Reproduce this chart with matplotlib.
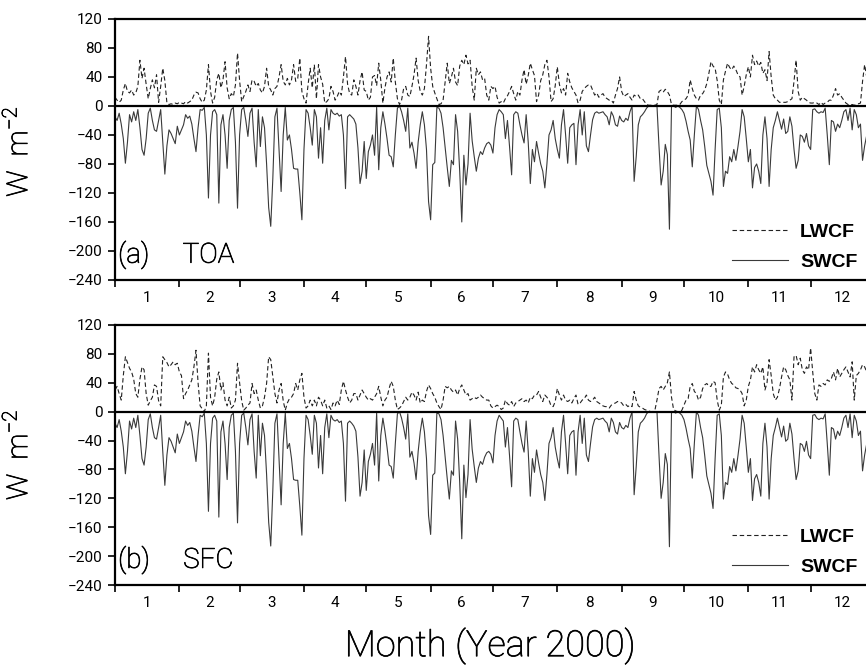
import numpy as np
import matplotlib
matplotlib.use("Agg")
import matplotlib.pyplot as plt
import matplotlib.patheffects as pe

plt.rcParams['font.family'] = ['Roboto', 'DejaVu Sans']
plt.rcParams['mathtext.fontset'] = 'custom'
plt.rcParams['mathtext.rm'] = 'Roboto:light'
plt.rcParams['mathtext.it'] = 'Roboto:light'

# daily cloud radiative forcing for 2000 (W m-2), one row per month
toa_lw = (
    [12, 8, 5, 8, 22, 31, 20, 18, 22, 15, 18, 27, 63, 38, 52, 30, 10, 24, 36, 25, 43, 5, 27, 52, 35, 4, 2, 3, 2, 4, 3]
    + [5, 4, 3, 6, 4, 6, 8, 15, 19, 18, 10, 5, 8, 22, 57, 20, 4, 12, 36, 45, 25, 36, 61, 25, 10, 17, 13, 29, 73]
    + [35, 6, 13, 20, 29, 20, 36, 34, 27, 31, 22, 18, 27, 52, 27, 22, 15, 24, 27, 40, 57, 34, 29, 38, 29, 36, 57, 34, 38, 66, 20]
    + [10, 4, 30, 52, 25, 57, 10, 57, 40, 30, 4, 6, 10, 27, 20, 8, 13, 20, 15, 40, 68, 30, 17, 15, 36, 27, 15, 35, 47, 22]
    + [20, 8, 12, 40, 42, 28, 59, 35, 4, 25, 40, 47, 33, 66, 33, 10, 2, 8, 24, 27, 15, 13, 27, 43, 66, 35, 20, 15, 24, 57, 96]
    + [52, 27, 18, 10, 2, 3, 8, 33, 59, 31, 40, 52, 33, 28, 55, 63, 57, 70, 58, 63, 27, 8, 52, 43, 47, 36, 38, 15, 8, 27]
    + [24, 27, 12, 4, 6, 4, 10, 14, 20, 27, 17, 8, 20, 15, 36, 50, 30, 42, 59, 50, 42, 6, 15, 35, 43, 57, 63, 40, 6, 10, 28]
    + [54, 30, 18, 24, 15, 45, 33, 25, 20, 15, 4, 8, 20, 24, 27, 29, 29, 22, 15, 18, 12, 15, 17, 12, 10, 8, 8, 4, 15, 24, 40]
    + [20, 13, 15, 17, 12, 8, 15, 13, 15, 10, 10, 6, 2, 1, 1, 1, 1, 2, 20, 22, 19, 23, 20, 15, 2, 1, 1, 1, 2, 6]
    + [8, 10, 15, 36, 24, 15, 10, 8, 15, 17, 22, 31, 45, 61, 55, 52, 35, 8, 2, 36, 48, 59, 53, 50, 55, 50, 43, 40, 15, 27, 43]
    + [54, 40, 70, 57, 62, 55, 60, 45, 50, 35, 75, 40, 15, 10, 8, 5, 5, 5, 5, 6, 8, 10, 34, 63, 20, 8, 12, 10, 8, 5]
    + [4, 4, 5, 4, 2, 5, 2, 4, 5, 8, 8, 15, 24, 15, 17, 12, 8, 4, 2, 1, 2, 1, 2, 3, 4, 34, 57, 40, 30, 25, 20]
)
toa_sw = (
    [-15, -20, -10, -25, -45, -79, -50, -12, -22, -8, -20, -5, -30, -60, -68, -45, -10, -3, -20, -33, -35, -20, -5, -50, -94, -55, -33, -38, -45, -52, -28]
    + [-40, -33, -26, -12, -17, -14, -25, -45, -63, -30, -5, -6, -2, -40, -127, -40, -8, -5, -12, -134, -26, -12, -40, -86, -20, -5, -2, -50, -141]
    + [-40, -5, -2, -20, -42, -10, -3, -50, -84, -5, -56, -15, -30, -80, -140, -166, -100, -15, -3, -60, -118, -40, -2, -47, -40, -60, -86, -87, -87, -120, -157]
    + [-60, -5, -10, -30, -54, -5, -15, -72, -30, -79, -20, -3, -33, -5, -10, -12, -10, -14, -12, -40, -114, -15, -12, -15, -18, -25, -58, -107, -90, -49]
    + [-100, -63, -54, -40, -68, -2, -88, -30, -8, -25, -45, -68, -70, -84, -40, -3, 0, -8, -20, -35, -3, -58, -50, -65, -86, -50, -26, -8, -26, -60, -132]
    + [-157, -81, -78, -2, -3, -10, -30, -58, -85, -111, -75, -81, -12, -35, -90, -160, -68, -109, -80, -10, -48, -70, -90, -72, -63, -67, -58, -52, -50, -54]
    + [-65, -30, -12, -5, -8, -12, -45, -20, -56, -95, -12, -8, -10, -26, -40, -51, -12, -50, -107, -60, -77, -49, -65, -80, -90, -113, -80, -40, -33, -20, -45]
    + [-60, -72, -26, -5, -40, -79, -30, -26, -24, -81, -26, -5, -40, -8, -55, -63, -40, -19, -10, -8, -10, -9, -8, -12, -15, -26, -8, -14, -26, -28, -14]
    + [-20, -22, -17, -20, -8, 0, -104, -70, -26, -15, -12, -8, -3, 0, 0, 0, 0, 0, -57, -109, -90, -53, -67, -170, 0, 0, -2, 0, -2, -5]
    + [-10, -21, -35, -47, -84, -40, 0, -5, -20, -33, -56, -82, -93, -104, -123, -60, -5, -3, -30, -111, -90, -93, -70, -77, -60, -75, -56, -35, -5, -15, -45]
    + [-77, -60, -113, -85, -80, -90, -107, -40, -15, -45, -111, -60, -30, -20, -8, -20, -32, -18, -38, -35, -15, -28, -60, -86, -75, -40, -42, -50, -38, -55]
    + [-60, -5, -4, -8, -10, -8, -9, -3, -40, -81, -20, -22, -35, -25, -30, -20, -8, -5, -20, -3, -33, -5, -12, -30, -25, -75, -55, -40, -30, -50, -60]
)
sfc_lw = (
    [30, 35, 25, 16, 50, 76, 68, 60, 55, 45, 25, 20, 45, 62, 58, 25, 9, 15, 20, 37, 35, 15, 8, 76, 72, 68, 62, 65, 69, 65, 67]
    + [55, 50, 18, 25, 30, 37, 44, 62, 85, 40, 8, 4, 0, 8, 81, 20, 8, 20, 45, 55, 30, 40, 16, 8, 20, 5, 8, 16, 67]
    + [40, 15, 2, 5, 9, 12, 39, 25, 30, 16, 5, 8, 20, 39, 76, 72, 48, 25, 12, 30, 39, 15, 2, 12, 18, 20, 25, 39, 30, 44, 53]
    + [20, 5, 8, 16, 8, 16, 8, 20, 16, 8, 16, 5, 8, 3, 12, 8, 16, 10, 30, 42, 30, 20, 12, 16, 25, 25, 16, 23, 30, 25]
    + [20, 16, 18, 16, 20, 25, 35, 20, 8, 16, 20, 32, 42, 35, 16, 3, 5, 8, 14, 20, 16, 20, 27, 23, 16, 27, 12, 16, 14, 28, 37]
    + [32, 25, 20, 12, 7, 3, 16, 35, 33, 35, 30, 27, 30, 23, 32, 37, 30, 23, 25, 16, 18, 20, 18, 20, 23, 20, 18, 16, 16, 8]
    + [5, 7, 9, 7, 3, 5, 16, 11, 9, 14, 7, 12, 14, 16, 18, 14, 16, 12, 20, 18, 23, 23, 28, 20, 14, 23, 20, 16, 8, 7, 14]
    + [32, 23, 16, 23, 16, 14, 16, 12, 18, 23, 10, 12, 16, 18, 23, 16, 14, 16, 20, 14, 12, 10, 8, 7, 7, 5, 9, 11, 12, 14, 14]
    + [12, 8, 10, 7, 9, 7, 28, 16, 8, 6, 5, 3, 2, 1, 0, 0, 2, 16, 32, 35, 30, 35, 40, 55, 20, 3, 1, 0, 0, 2]
    + [9, 16, 18, 35, 39, 28, 25, 16, 20, 32, 37, 39, 35, 35, 42, 40, 16, 2, 9, 48, 55, 52, 44, 39, 37, 33, 32, 30, 25, 8, 16]
    + [35, 44, 62, 55, 65, 58, 53, 62, 30, 40, 72, 50, 25, 16, 20, 32, 48, 62, 58, 50, 44, 16, 76, 78, 65, 74, 58, 53, 62, 58]
    + [88, 55, 25, 16, 37, 35, 39, 37, 44, 42, 46, 55, 44, 60, 48, 53, 58, 62, 55, 48, 69, 16, 50, 53, 58, 65, 62, 55, 50, 45, 40]
)
sfc_sw = (
    [-16, -22, -11, -27, -49, -86, -55, -13, -24, -9, -22, -5, -33, -65, -74, -49, -11, -3, -22, -36, -38, -22, -5, -55, -102, -60, -36, -41, -49, -57, -31]
    + [-44, -36, -28, -13, -19, -15, -27, -49, -69, -33, -5, -7, -2, -44, -138, -44, -9, -5, -13, -146, -28, -13, -44, -94, -22, -5, -2, -55, -154]
    + [-44, -5, -2, -22, -46, -11, -3, -55, -92, -5, -61, -16, -33, -87, -153, -186, -109, -16, -3, -65, -129, -44, -2, -51, -44, -65, -94, -95, -95, -131, -171]
    + [-65, -5, -11, -33, -59, -5, -16, -78, -33, -86, -22, -3, -36, -5, -11, -13, -11, -15, -13, -44, -124, -16, -13, -16, -20, -27, -63, -117, -98, -53]
    + [-109, -69, -59, -44, -74, -2, -96, -33, -9, -27, -49, -74, -76, -92, -44, -3, 0, -9, -22, -38, -3, -63, -55, -71, -94, -55, -28, -9, -28, -65, -144]
    + [-170, -88, -85, -2, -3, -11, -33, -63, -93, -121, -82, -88, -13, -38, -98, -176, -74, -119, -87, -11, -52, -76, -98, -78, -69, -73, -63, -57, -55, -59]
    + [-71, -33, -13, -5, -9, -13, -49, -22, -61, -104, -13, -9, -11, -28, -44, -56, -13, -55, -117, -65, -84, -53, -71, -87, -98, -123, -87, -44, -36, -22, -49]
    + [-65, -78, -28, -5, -44, -86, -33, -28, -26, -88, -28, -5, -44, -9, -60, -69, -44, -21, -11, -9, -11, -10, -9, -13, -16, -28, -9, -15, -28, -31, -15]
    + [-22, -24, -19, -22, -9, 0, -115, -76, -28, -16, -13, -9, -3, 0, 0, 0, 0, 0, -62, -120, -98, -58, -73, -187, 0, 0, -2, 0, -2, -5]
    + [-11, -23, -38, -51, -92, -44, 0, -5, -22, -36, -61, -89, -101, -113, -134, -65, -5, -3, -33, -121, -98, -101, -76, -84, -65, -82, -61, -38, -5, -16, -49]
    + [-84, -65, -123, -93, -87, -98, -117, -44, -16, -49, -121, -65, -33, -22, -9, -22, -35, -20, -41, -38, -16, -31, -65, -94, -82, -44, -46, -55, -41, -60]
    + [-65, -5, -4, -9, -11, -9, -10, -3, -44, -88, -22, -24, -38, -27, -33, -22, -9, -5, -22, -3, -36, -5, -13, -33, -27, -82, -60, -44, -33, -55, -65]
)

month_len = [31, 29, 31, 30, 31, 30, 31, 31, 30, 31, 30, 31]
month_labels = [str(m) for m in range(1, 13)]
panels = [("(a)     TOA", toa_lw, toa_sw), ("(b)     SFC", sfc_lw, sfc_sw)]

days = np.arange(len(toa_sw))
edges = np.concatenate([[0], np.cumsum(month_len)])
mids = (edges[:-1] + edges[1:]) / 2

# thin outline so the light face prints as solid black
ink = [pe.withStroke(linewidth=0.5, foreground='black')]

fig = plt.figure(figsize=(8.66, 6.65), dpi=100)
boxes = [[0.1328, 0.579, 0.8776, 0.3925], [0.1328, 0.1203, 0.8776, 0.391]]
ylab_y = [0.772, 0.316]

for box, (title, lw, sw), yy in zip(boxes, panels, ylab_y):
    ax = fig.add_axes(box)
    l1, = ax.plot(days, lw, color='#222222', lw=0.8, ls=(0, (4, 2.5)), label='LWCF')
    l2, = ax.plot(days, sw, color='#3a3a3a', lw=0.8, label='SWCF')
    ax.axhline(0, color='black', lw=1.6)
    ax.set_xlim(0, 366)
    ax.set_ylim(-240, 120)
    ax.set_yticks(np.arange(-240, 121, 40))
    ax.set_xticks(edges)
    ax.set_xticklabels([])
    ax.set_xticks(mids, minor=True)
    ax.set_xticklabels(month_labels, minor=True)
    ax.tick_params(axis='x', which='major', direction='out', length=5, width=1.2)
    ax.tick_params(axis='x', which='minor', length=0, pad=8, labelsize=11)
    ax.tick_params(axis='y', direction='out', length=5, width=1.2, pad=4, labelsize=11)
    for s in ax.spines.values():
        s.set_linewidth(1.6)
    ax.text(0.004, 0.096, title, transform=ax.transAxes, fontsize=20, fontweight='light',
            va='center', ha='left', path_effects=ink)
    ax.legend(handles=[l1, l2], loc='lower right', bbox_to_anchor=(0.977, 0.035),
              frameon=False, borderpad=0, borderaxespad=0, handlelength=2.9,
              handletextpad=0.6, labelspacing=0.65,
              prop={'family': 'Liberation Sans', 'weight': 'bold', 'size': 14})
    fig.text(0.021, yy, 'W  m$^{-2}$', rotation=90, ha='center', va='center',
             fontsize=21, fontweight='light', path_effects=ink)

fig.text(0.566, 0.029, 'Month (Year 2000)', ha='center', va='center', fontsize=26,
         fontweight='light', path_effects=ink)

fig.savefig('out.png', dpi=100)
